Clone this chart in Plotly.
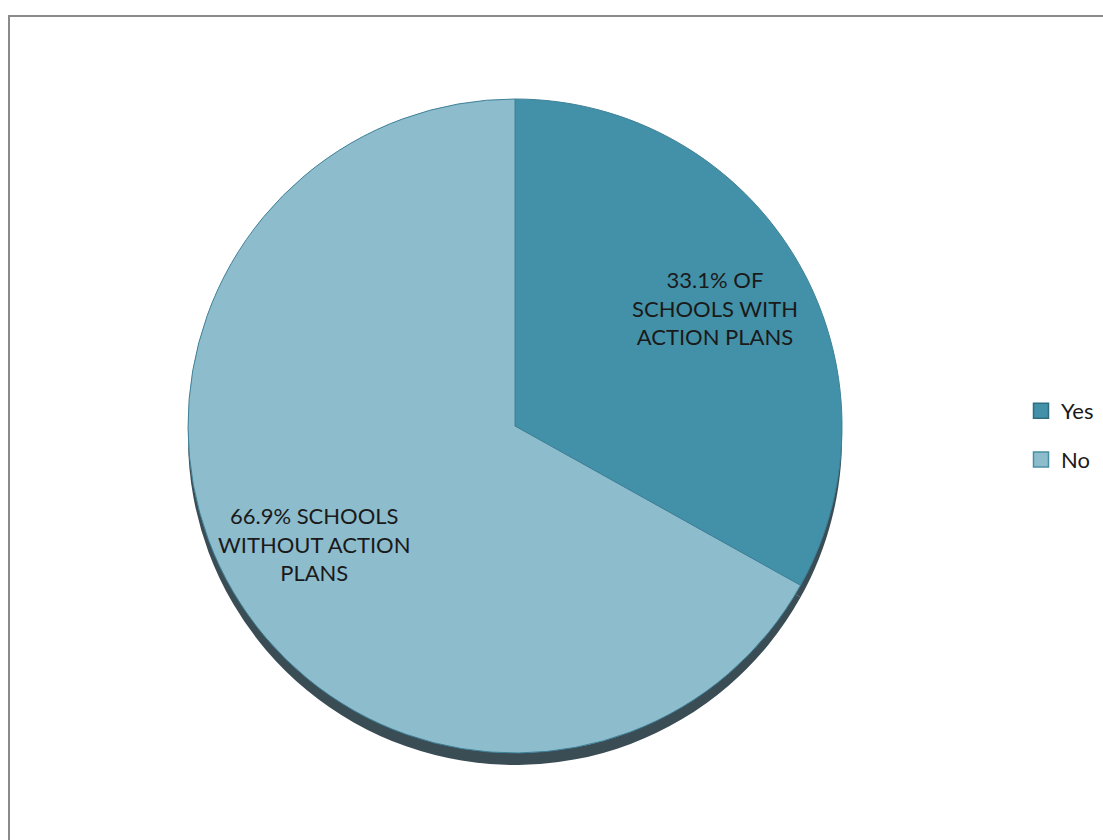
import math
import plotly.graph_objects as go

# Share of schools with / without action plans
labels = ["Yes", "No"]
values = [33.1, 66.9]
captions = ["OF<br>SCHOOLS WITH<br>ACTION PLANS", "SCHOOLS<br>WITHOUT ACTION<br>PLANS"]
slice_colors = ["#4391a8", "#8dbccd"]
legend_edges = ["#2e6e80", "#4a8ea3"]

slice_text = [f"{v}% {c}" for v, c in zip(values, captions)]

W, H = 1103, 840
cx, cy, r = 515, 426, 327
shadow_dy = 12
label_radius = 0.71
FONT = "Lato, Open Sans, sans-serif"


def domain(dy=0):
    return dict(
        x=[(cx - r) / W, (cx + r) / W],
        y=[(H - cy - dy - r) / H, (H - cy - dy + r) / H],
    )


fig = go.Figure()

# dark rim underneath the pie, shifted down to give a raised look
fig.add_trace(go.Pie(
    labels=labels, values=values, sort=False, direction="clockwise", rotation=0,
    domain=domain(shadow_dy), marker=dict(colors=["#3b4d54", "#3b4d54"], line=dict(width=0)),
    textinfo="none", hoverinfo="skip", showlegend=False,
))

fig.add_trace(go.Pie(
    labels=labels, values=values, sort=False, direction="clockwise", rotation=0,
    domain=domain(), text=slice_text, textinfo="none", hoverinfo="label+percent",
    marker=dict(colors=slice_colors, line=dict(color="#3f8198", width=1)),
    showlegend=False,
))

# slice captions placed on each slice's middle angle
total = sum(values)
start = 0.0
annotations = []
for v, t in zip(values, slice_text):
    mid = (start + v / 2) / total * 2 * math.pi
    start += v
    px = cx + label_radius * r * math.sin(mid)
    py = cy - label_radius * r * math.cos(mid)
    annotations.append(dict(
        x=px / W, y=(H - py) / H, xref="paper", yref="paper",
        xanchor="center", yanchor="middle",
        text=t, showarrow=False, align="center",
        font=dict(family=FONT, size=22, color="#1a1a1a"),
    ))

# legend entries, one group each so they can be spaced apart
for name, col, edge in zip(labels, slice_colors, legend_edges):
    fig.add_trace(go.Scatter(
        x=[None], y=[None], mode="markers", name=name, legendgroup=name,
        marker=dict(symbol="square", size=15, color=col, line=dict(color=edge, width=1.5)),
    ))

fig.update_layout(
    width=W, height=H,
    margin=dict(l=0, r=0, t=0, b=0),
    paper_bgcolor="white", plot_bgcolor="rgba(0,0,0,0)",
    font=dict(family=FONT),
    xaxis=dict(visible=False), yaxis=dict(visible=False),
    annotations=annotations,
    legend=dict(
        x=1021 / W, y=(H - 390) / H, xanchor="left", yanchor="top",
        font=dict(size=22, color="#1a1a1a"),
        bgcolor="rgba(0,0,0,0)", tracegroupgap=17, itemwidth=30,
    ),
    shapes=[dict(
        type="rect", xref="paper", yref="paper",
        x0=9 / W, x1=1.02, y0=-0.02, y1=1 - 16 / H,
        line=dict(color="#8a8a8a", width=2),
    )],
)

fig.write_html("out.html")
